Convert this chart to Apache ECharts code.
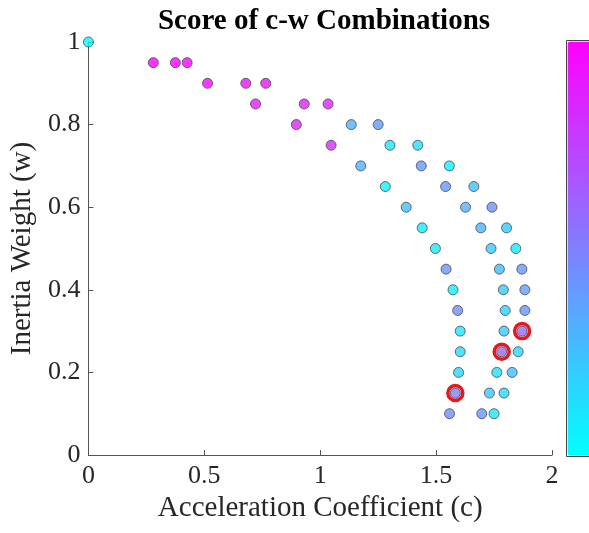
<!DOCTYPE html>
<html>
<head>
<meta charset="utf-8">
<script src="https://cdn.jsdelivr.net/npm/echarts@6/dist/echarts.min.js"></script>
<style>
  html, body { margin: 0; padding: 0; background: #fff; }
  #chart { width: 589px; height: 533px; }
</style>
</head>
<body>
<div id="chart"></div>
<script>
// Acceleration coefficient c, inertia weight w and score of every tested combination
const cValues = [
  0.000,
  0.280, 0.375, 0.426,
  0.514, 0.679, 0.765,
  0.721, 0.931, 1.034,
  0.897, 1.134, 1.250,
  1.047, 1.301, 1.421,
  1.175, 1.436, 1.557,
  1.281, 1.541, 1.663,
  1.371, 1.627, 1.741,
  1.440, 1.693, 1.804,
  1.497, 1.737, 1.844,
  1.543, 1.773, 1.870,
  1.573, 1.790, 1.883,
  1.593, 1.798, 1.883,
  1.604, 1.793, 1.871,
  1.604, 1.783, 1.854,
  1.597, 1.762, 1.828,
  1.583, 1.730, 1.793,
  1.558, 1.697, 1.750
];
const wValues = [
  1.00,
  0.95, 0.95, 0.95,
  0.90, 0.90, 0.90,
  0.85, 0.85, 0.85,
  0.80, 0.80, 0.80,
  0.75, 0.75, 0.75,
  0.70, 0.70, 0.70,
  0.65, 0.65, 0.65,
  0.60, 0.60, 0.60,
  0.55, 0.55, 0.55,
  0.50, 0.50, 0.50,
  0.45, 0.45, 0.45,
  0.40, 0.40, 0.40,
  0.35, 0.35, 0.35,
  0.30, 0.30, 0.30,
  0.25, 0.25, 0.25,
  0.20, 0.20, 0.20,
  0.15, 0.15, 0.15,
  0.10, 0.10, 0.10
];
const scores = [
  0.02,
  1.00, 1.00, 0.98,
  0.97, 0.93, 0.92,
  0.90, 0.87, 0.85,
  0.85, 0.30, 0.40,
  0.82, 0.10, 0.12,
  0.30, 0.40, 0.05,
  0.05, 0.40, 0.25,
  0.25, 0.30, 0.42,
  0.08, 0.30, 0.20,
  0.08, 0.20, 0.08,
  0.42, 0.25, 0.40,
  0.05, 0.22, 0.38,
  0.45, 0.18, 0.42,
  0.10, 0.20, 0.58,
  0.15, 0.58, 0.15,
  0.15, 0.12, 0.25,
  0.50, 0.22, 0.15,
  0.45, 0.40, 0.08
];
// Highlighted combinations (indices into the arrays above)
const bestIdx = [42, 44, 49];

const xTicks = [0, 0.5, 1, 1.5, 2];
const yTicks = [0, 0.2, 0.4, 0.6, 0.8, 1];

const points = cValues.map((c, i) => [c, wValues[i], scores[i]]);
const bestPoints = bestIdx.map(i => [cValues[i], wValues[i]]);

const serif = 'Liberation Serif, Times New Roman, serif';
const axisGray = '#555555';

const chart = echarts.init(document.getElementById('chart'), null, { renderer: 'canvas' });
chart.setOption({
  backgroundColor: '#ffffff',
  animation: false,
  title: {
    text: 'Score of c-w Combinations',
    left: 319, top: 2, textAlign: 'center',
    textStyle: { fontFamily: serif, fontWeight: 'bold', fontSize: 29, color: '#000' }
  },
  grid: { left: 86, right: 37, top: 42, bottom: 78, containLabel: false },
  xAxis: {
    type: 'value', min: xTicks[0], max: xTicks[xTicks.length - 1], interval: 0.5,
    name: 'Acceleration Coefficient (c)', nameLocation: 'middle', nameGap: 38,
    nameTextStyle: { fontFamily: serif, fontSize: 29, color: '#262626' },
    axisLine: { show: true, lineStyle: { color: axisGray, width: 1 } },
    axisTick: { show: true, inside: true, length: 5, lineStyle: { color: axisGray } },
    axisLabel: { fontFamily: serif, fontSize: 26, color: '#262626', margin: 8,
      formatter: v => String(Math.round(v * 10) / 10) },
    splitLine: { show: false }
  },
  yAxis: {
    type: 'value', min: yTicks[0], max: yTicks[yTicks.length - 1], interval: 0.2,
    name: 'Inertia Weight (w)', nameLocation: 'middle', nameGap: 44,
    nameTextStyle: { fontFamily: serif, fontSize: 29, color: '#262626' },
    axisLine: { show: true, lineStyle: { color: axisGray, width: 1 } },
    axisTick: { show: true, inside: true, length: 5, lineStyle: { color: axisGray } },
    axisLabel: { fontFamily: serif, fontSize: 26, color: '#262626', margin: 8,
      formatter: v => String(Math.round(v * 10) / 10) },
    splitLine: { show: false }
  },
  visualMap: {
    type: 'continuous', min: 0, max: 1, dimension: 2, seriesIndex: 1,
    calculable: false, show: true,
    left: 566, top: 40, itemWidth: 26, itemHeight: 414, padding: 1,
    borderColor: '#444444', borderWidth: 1,
    inRange: { color: ['#00ffff', '#ff00ff'] }
  },
  series: [
    {
      name: 'best', type: 'scatter', data: bestPoints, symbol: 'circle', symbolSize: 15,
      itemStyle: { color: '#ffffff', borderColor: '#e3191c', borderWidth: 3.5, opacity: 1 },
      emphasis: { disabled: true },
      z: 1, silent: true
    },
    {
      name: 'score', type: 'scatter', data: points, symbol: 'circle', symbolSize: 10,
      itemStyle: { borderColor: '#4a4a4a', borderWidth: 1 },
      z: 2
    }
  ]
});
</script>
</body>
</html>
